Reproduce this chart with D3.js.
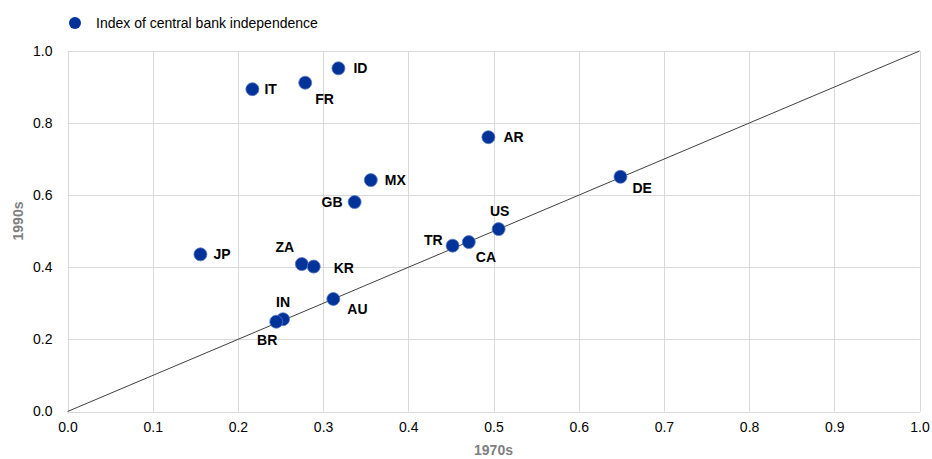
<!DOCTYPE html>
<html><head><meta charset="utf-8">
<script src="https://cdn.jsdelivr.net/npm/d3@7"></script>
<style>body{margin:0;background:#fff}svg{display:block;font-family:"Liberation Sans",Arial,sans-serif}</style>
</head><body><svg id="c" width="932" height="459"></svg>
<script>
const countries = ["IT","FR","ID","JP","ZA","KR","AU","IN","BR","AR","DE","US","CA","TR","MX","GB"];
const x1970s =   [0.217,0.279,0.318,0.156,0.275,0.289,0.312,0.253,0.245,0.494,0.649,0.506,0.471,0.452,0.356,0.337];
const y1990s =   [0.894,0.912,0.952,0.436,0.409,0.402,0.312,0.256,0.249,0.761,0.651,0.506,0.470,0.460,0.642,0.581];
// label placement: [anchor, dx, dy]
const labelPos = {IT:["start",12,0],FR:["start",10,16],ID:["start",15,0],JP:["start",13,0],ZA:["middle",-17,-17],
  KR:["start",20,1],AU:["start",14,10],IN:["middle",0,-17],BR:["middle",-9,18],AR:["start",15,0],DE:["start",12,11],
  US:["middle",1,-18],CA:["start",7,15],TR:["end",-10,-6],MX:["start",14,0],GB:["end",-12,0]};
const xTicks = [0,0.1,0.2,0.3,0.4,0.5,0.6,0.7,0.8,0.9,1.0];
const yTicks = [0,0.2,0.4,0.6,0.8,1.0];
const legendLabel = "Index of central bank independence";
const xTitle = "1970s", yTitle = "1990s";

const svg = d3.select("#c");
const x = d3.scaleLinear().domain([0,1]).range([67.5,919.5]);
const y = d3.scaleLinear().domain([0,1]).range([411.5,51]);
const blue = "#003399";

// grid
svg.append("g").selectAll("line").data(xTicks).join("line")
  .attr("x1",d=>Math.round(x(d))+0.5).attr("x2",d=>Math.round(x(d))+0.5)
  .attr("y1",y(0)).attr("y2",y(1)).attr("stroke","#d9d9d9");
svg.append("g").selectAll("line").data(yTicks).join("line")
  .attr("y1",d=>Math.round(y(d))+0.5).attr("y2",d=>Math.round(y(d))+0.5)
  .attr("x1",x(0)).attr("x2",x(1)).attr("stroke","#d9d9d9");

// axes
const xa = svg.append("g").attr("transform",`translate(0,${y(0)})`)
  .call(d3.axisBottom(x).tickValues(xTicks).tickFormat(d3.format(".1f")).tickSize(0).tickPadding(11));
xa.select(".domain").remove();
xa.selectAll("text").attr("font-size",14).attr("fill","#000").attr("font-family","Liberation Sans, Arial");
const ya = svg.append("g").attr("transform",`translate(${x(0)},0)`)
  .call(d3.axisLeft(y).tickValues(yTicks).tickFormat(d3.format(".1f")).tickSize(0).tickPadding(15));
ya.select(".domain").remove();
ya.selectAll("text").attr("font-size",14).attr("fill","#000").attr("font-family","Liberation Sans, Arial");

// titles
svg.append("text").attr("x",x(0.5)).attr("y",455).attr("text-anchor","middle")
  .attr("font-size",14).attr("font-weight","bold").attr("fill","#7f7f7f").text(xTitle);
svg.append("text").attr("transform",`translate(22.5,221) rotate(-90)`).attr("text-anchor","middle")
  .attr("font-size",14).attr("font-weight","bold").attr("fill","#7f7f7f").text(yTitle);

// diagonal
svg.append("line").attr("x1",x(0)).attr("y1",y(0)).attr("x2",x(1)).attr("y2",y(1))
  .attr("stroke","#404040").attr("stroke-width",1);

// points
const data = countries.map((c,i)=>({c,x:x1970s[i],y:y1990s[i]}));
svg.append("g").selectAll("circle").data(data).join("circle")
  .attr("cx",d=>x(d.x)).attr("cy",d=>y(d.y)).attr("r",6.5)
  .attr("fill",blue).attr("stroke","#5a78c0").attr("stroke-width",0.8);
svg.append("g").selectAll("text").data(data).join("text")
  .attr("x",d=>x(d.x)+labelPos[d.c][1]).attr("y",d=>y(d.y)+labelPos[d.c][2])
  .attr("dy","0.36em").attr("text-anchor",d=>labelPos[d.c][0])
  .attr("font-size",14).attr("font-weight","bold").attr("fill","#000").text(d=>d.c);

// legend
svg.append("circle").attr("cx",75).attr("cy",23).attr("r",6).attr("fill",blue);
svg.append("text").attr("x",96).attr("y",23).attr("dy","0.36em").attr("font-size",14).attr("fill","#000").text(legendLabel);
</script></body></html>
